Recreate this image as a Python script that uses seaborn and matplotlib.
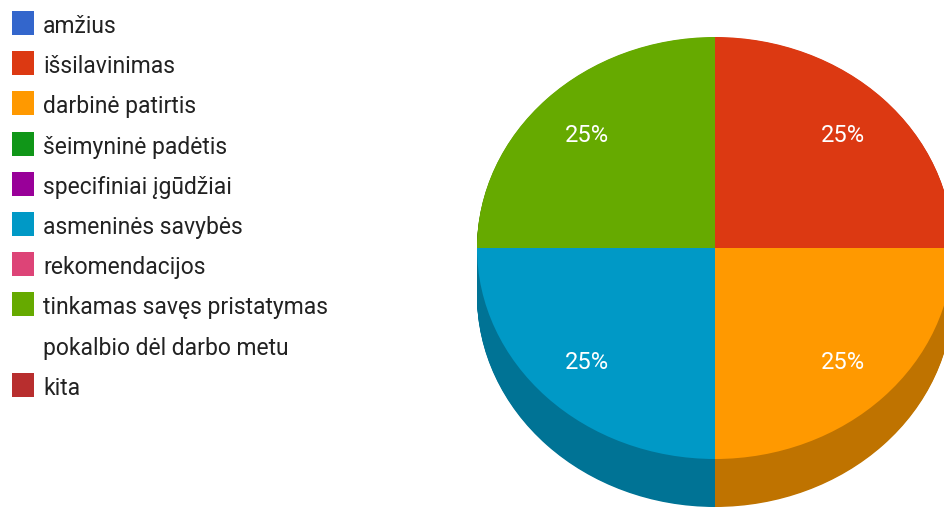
import matplotlib
matplotlib.use("Agg")
import matplotlib.pyplot as plt
from matplotlib.patches import Rectangle
import seaborn as sns
import numpy as np

categories = ["amžius", "išsilavinimas", "darbinė patirtis", "šeimyninė padėtis",
              "specifiniai įgūdžiai", "asmeninės savybės", "rekomendacijos",
              "tinkamas savęs pristatymas\npokalbio dėl darbo metu", "kita"]
values = [0, 1, 1, 0, 0, 1, 0, 1, 0]
colors = ["#3366cc", "#dc3912", "#ff9900", "#109618", "#990099",
          "#0099c6", "#dd4477", "#66aa00", "#b82e2e"]

sns.set_theme(style="white")
plt.rcParams['font.family'] = ['Roboto', 'DejaVu Sans']

W, H = 944, 510
fig = plt.figure(figsize=(W / 100, H / 100), dpi=100)
ax = fig.add_axes([0, 0, 1, 1])
ax.set_axis_off()

rx, ry = 238.0, 211.0
k = rx / ry
cx, cy_px = 715.0, 249.0
depth_px = 48.0
cy = (H - cy_px) * k

pal = sns.color_palette(colors)
dark = [tuple(c * 0.75 for c in col) for col in pal]

# side of the 3D pie
for d in np.linspace(depth_px, 0.5, 60):
    ax.pie(values, colors=dark, startangle=90, counterclock=False,
           radius=rx, center=(cx, cy - d * k), frame=True,
           wedgeprops=dict(linewidth=0))

def fmt(p):
    return f"{p:.0f}%" if p > 0 else ""

wedges, texts, autotexts = ax.pie(values, colors=pal, startangle=90, counterclock=False,
                                  radius=rx, center=(cx, cy), frame=True,
                                  autopct=fmt, pctdistance=0.76,
                                  wedgeprops=dict(linewidth=0),
                                  textprops=dict(color="white", fontsize=17))
ax.set_xlim(0, W)
ax.set_ylim(0, H * k)
ax.set_aspect('auto')
ax.set_axis_off()

# legend
pitch = 40.19
row = 0
for cat, col in zip(categories, pal):
    yc = 24 + row * pitch
    fig.add_artist(Rectangle((11.5 / W, 1 - (yc + 12) / H), 22.5 / W, 24 / H,
                             transform=fig.transFigure, facecolor=col, edgecolor='none'))
    lines = cat.split("\n")
    for j, line in enumerate(lines):
        fig.text(43 / W, 1 - (yc + j * pitch + 9) / H, line, ha='left', va='baseline',
                 fontsize=16.5, color="#222222")
    row += len(lines)

fig.savefig("out.png", dpi=100)
